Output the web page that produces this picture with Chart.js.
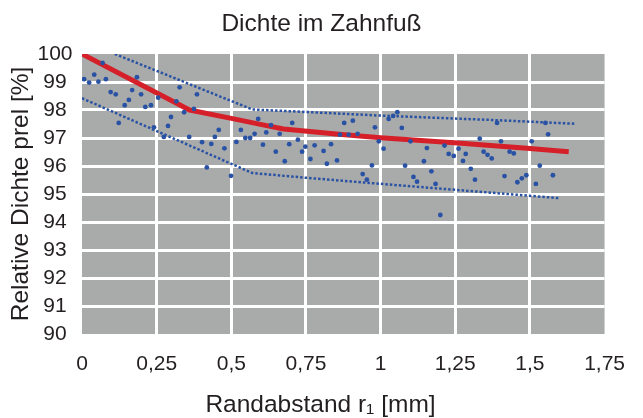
<!DOCTYPE html>
<html><head><meta charset="utf-8">
<script src="https://cdn.jsdelivr.net/npm/chart.js@4.4.1/dist/chart.umd.min.js"></script>
<style>html,body{margin:0;padding:0;background:#fff}#wrap{width:643px;height:418px}</style>
</head><body><div id="wrap"><canvas id="c" width="643" height="418"></canvas></div>
<script>
const titleText = 'Dichte im Zahnfuß';
const xTitle = 'Randabstand r\u2081 [mm]';
const yTitle = 'Relative Dichte prel [%]';
const xTickValues = [0, 0.25, 0.5, 0.75, 1, 1.25, 1.5, 1.75];
const xTickLabels = ['0', '0,25', '0,5', '0,75', '1', '1,25', '1,5', '1,75'];
const yTickValues = [90, 91, 92, 93, 94, 95, 96, 97, 98, 99, 100];
const yTickLabels = ['90', '91', '92', '93', '94', '95', '96', '97', '98', '99', '100'];

const measX = [0.007,0.024,0.041,0.055,0.069,0.080,0.096,0.113,0.123,0.143,0.157,0.168,0.184,0.198,0.212,0.231,0.241,0.255,0.274,0.288,0.298,0.316,0.327,0.342,0.359,0.375,0.385,0.402,0.418,0.433,0.445,0.458,0.477,0.499,0.517,0.532,0.547,0.563,0.578,0.590,0.606,0.617,0.633,0.649,0.662,0.679,0.694,0.704,0.723,0.737,0.748,0.765,0.779,0.809,0.820,0.834,0.854,0.864,0.878,0.893,0.907,0.923,0.940,0.954,0.971,0.981,0.994,1.010,1.027,1.042,1.056,1.071,1.082,1.100,1.110,1.122,1.145,1.155,1.170,1.184,1.200,1.214,1.228,1.245,1.261,1.276,1.285,1.302,1.316,1.332,1.345,1.358,1.372,1.390,1.403,1.415,1.432,1.446,1.458,1.473,1.488,1.506,1.520,1.533,1.552,1.561,1.577];
const measY = [99.10,98.98,99.26,99.01,99.68,99.10,98.64,98.56,97.54,98.17,98.36,98.71,99.17,98.56,98.11,98.17,97.38,98.44,97.04,97.43,97.75,98.31,98.81,97.92,97.04,98.04,98.56,96.85,95.95,96.79,97.04,97.29,96.63,95.65,96.86,97.29,97.00,97.00,97.15,97.68,96.76,97.20,97.46,96.51,97.15,96.17,96.78,97.54,96.94,96.51,96.69,96.25,96.74,96.54,96.08,96.78,96.20,97.12,97.54,97.12,97.62,97.15,95.71,95.51,96.02,97.38,96.88,96.62,97.68,97.79,97.92,97.36,96.01,96.88,95.61,95.44,96.17,96.64,95.81,95.36,94.25,96.73,96.43,96.36,96.62,96.18,96.43,95.90,95.51,96.98,96.51,96.40,96.27,97.54,96.88,95.64,96.51,96.45,95.42,95.56,95.67,96.88,95.36,96.01,97.54,97.13,95.67];

const fitX = [0, 0.36, 0.5, 0.61, 0.675, 0.86, 1.0, 1.27, 1.49, 1.63];
const fitY = [100, 98.0, 97.7, 97.46, 97.32, 97.13, 97.01, 96.81, 96.63, 96.51];
const upperX = [0.11, 0.57, 0.75, 1.0, 1.38, 1.65];
const upperY = [100, 98.02, 97.93, 97.8, 97.64, 97.51];
const lowerX = [0, 0.57, 0.75, 0.98, 1.6];
const lowerY = [98.42, 95.75, 95.58, 95.38, 94.85];

const zip = (xs, ys) => xs.map((x, i) => ({x: x, y: ys[i]}));
const FONT = 'Liberation Sans, Arial, Helvetica, sans-serif';
const TXT = '#231f20';

const bgPlugin = {
  id: 'plotBg',
  beforeDraw(chart) {
    const a = chart.chartArea, ctx = chart.ctx;
    ctx.save();
    ctx.fillStyle = '#a8abaa';
    ctx.fillRect(a.left, a.top, a.right - a.left, a.bottom - a.top);
    ctx.restore();
  }
};

const xTitlePlugin = {
  id: 'xTitleCentered',
  afterDraw(chart) {
    const ctx = chart.ctx;
    ctx.save();
    ctx.fillStyle = TXT;
    ctx.font = '24.5px ' + FONT;
    ctx.textAlign = 'center';
    ctx.textBaseline = 'middle';
    ctx.fillText(xTitle, chart.width / 2 - 1, 405);
    ctx.restore();
  }
};

const gridColor = (min, max) => (c) => {
  const v = c.tick ? c.tick.value : null;
  return (v === min || v === max) ? 'rgba(0,0,0,0)' : '#ffffff';
};

new Chart(document.getElementById('c'), {
  type: 'scatter',
  data: {
    datasets: [
      { label: 'Messwerte', data: zip(measX, measY), backgroundColor: '#2a52a4', borderWidth: 0, pointRadius: 2.4, pointHoverRadius: 2.4 },
      { label: 'Fit', type: 'line', data: zip(fitX, fitY), borderColor: '#d5202a', borderWidth: 5, pointRadius: 0, fill: false, tension: 0, borderJoinStyle: 'round' },
      { label: 'Oben', type: 'line', data: zip(upperX, upperY), borderColor: '#2a52a4', borderWidth: 2.5, borderDash: [2.5, 2], borderCapStyle: 'butt', pointRadius: 0, fill: false, tension: 0 },
      { label: 'Unten', type: 'line', data: zip(lowerX, lowerY), borderColor: '#2a52a4', borderWidth: 2.5, borderDash: [2.5, 2], borderCapStyle: 'butt', pointRadius: 0, fill: false, tension: 0 }
    ]
  },
  options: {
    responsive: false,
    animation: false,
    devicePixelRatio: 1,
    layout: { padding: { left: 0, right: 0, top: 0, bottom: 0 } },
    plugins: {
      legend: { display: false },
      tooltip: { enabled: false },
      title: { display: true, text: titleText, color: TXT, font: { family: FONT, size: 24.5, weight: 'normal', lineHeight: 1.2 }, padding: { top: 10, bottom: 14.6 } }
    },
    scales: {
      x: {
        type: 'linear', min: 0, max: 1.75,
        afterFit(s) { s.height = 84; },
        afterBuildTicks(s) { s.ticks = xTickValues.map(v => ({value: v})); },
        ticks: { stepSize: 0.25, color: TXT, font: { family: FONT, size: 21 }, padding: 18, maxRotation: 0, autoSkip: false,
          callback: (v) => { const i = xTickValues.findIndex(t => Math.abs(t - v) < 1e-6); return i >= 0 ? xTickLabels[i] : ''; } },
        grid: { color: gridColor(0, 1.75), lineWidth: 3, drawTicks: false },
        border: { display: false },
        title: { display: false }
      },
      y: {
        type: 'linear', min: 90, max: 100,
        afterFit(s) { s.width = 82; },
        afterBuildTicks(s) { s.ticks = yTickValues.map(v => ({value: v})); },
        ticks: { stepSize: 1, color: TXT, font: { family: FONT, size: 21 }, padding: 9.5, crossAlign: 'center', autoSkip: false,
          callback: (v) => { const i = yTickValues.indexOf(v); return i >= 0 ? yTickLabels[i] : ''; } },
        grid: { color: gridColor(90, 100), lineWidth: 3, drawTicks: false },
        border: { display: false },
        title: { display: true, text: yTitle, color: TXT, font: { family: FONT, size: 24.5, lineHeight: 1.2 }, padding: { top: 6.3, bottom: 0 } }
      },
      yRightSpace: {
        type: 'linear', position: 'right', min: 0, max: 1, display: true,
        afterFit(s) { s.width = 30; },
        ticks: { display: false },
        grid: { display: false, drawOnChartArea: false },
        border: { display: false }
      }
    }
  },
  plugins: [bgPlugin, xTitlePlugin]
});
</script></body></html>
